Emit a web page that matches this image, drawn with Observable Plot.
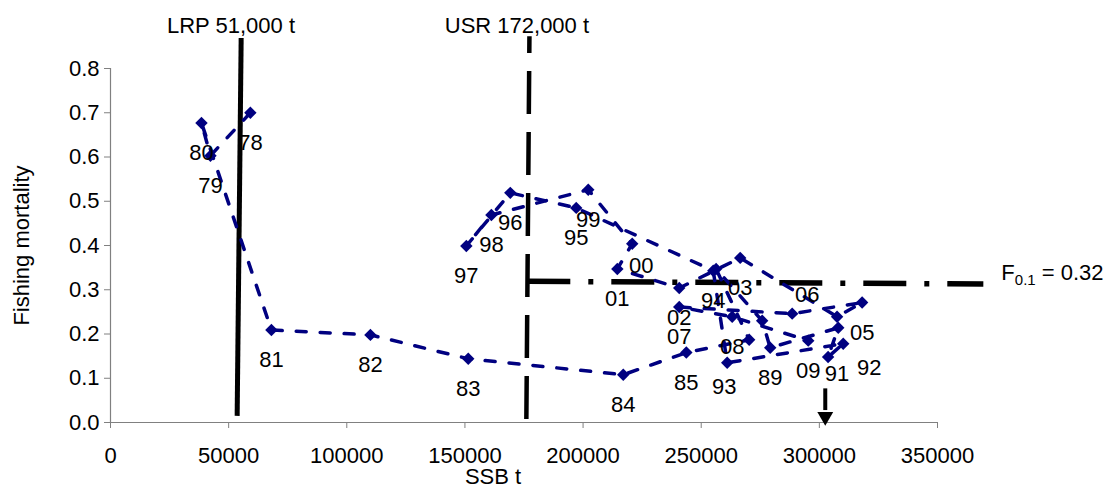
<!DOCTYPE html>
<html>
<head>
<meta charset="utf-8">
<script src="https://cdn.jsdelivr.net/npm/d3@7"></script>
<script src="https://cdn.jsdelivr.net/npm/@observablehq/plot@0.6"></script>
<style>
  html, body { margin: 0; padding: 0; background: #fff; }
  #chart svg { display: block; }
</style>
</head>
<body>
<div id="chart"></div>
<script>
// ---- data ----
const years  = ["78","79","80","81","82","83","84","85","86","87","88","89","90","91","92","93","94","95","96","97","98","99","00","01","02","03","04","05","06","07","08","09"];
const ssb    = [59200,42300,38500,68100,110000,151400,217000,243700,270300,256300,275800,279200,308000,303700,310100,261000,255100,197100,169200,150600,161200,202200,220800,214500,240700,266500,307500,318100,288500,240700,263100,295300];
const fMort  = [0.700,0.603,0.677,0.209,0.198,0.144,0.108,0.158,0.187,0.347,0.230,0.169,0.214,0.148,0.178,0.135,0.343,0.485,0.519,0.399,0.469,0.526,0.404,0.347,0.304,0.372,0.239,0.271,0.246,0.261,0.239,0.185];
const unlabeled = ["86","87","88","90","04"];

const xTicks = [0,50000,100000,150000,200000,250000,300000,350000];
const yTicks = [0,0.1,0.2,0.3,0.4,0.5,0.6,0.7,0.8];

const lrpValue = 51000;   // label value
const usrValue = 172000;  // label value
const f01Value = 0.32;
// reference lines as drawn in the picture
const lrpLine = {xBottom: 53600, xTop: 55300, yBottom: 0.015, yTop: 0.869};
const usrLine = {xBottom: 176000, xTop: 177300, yBottom: 0.008, yTop: 0.873};
const f01Line = {xLeft: 176400, xRight: 369400, yLeft: 0.319, yRight: 0.313};
const arrowSSB = 302500;
const arrowShaft = [0.076, 0.027];
const arrowHeadY = 0.0133;

const data = years.map((yr, i) => ({year: yr, ssb: ssb[i], f: fMort[i], label: unlabeled.includes(yr) ? "" : yr}));

// label nudges (pixels) for labels that are not directly below their point
const nudge = {"00": [9, 22], "06": [15, -19], "93": [-3, 24], "91": [9, 17], "92": [26, 24]};

const font = "'Liberation Sans', Arial, sans-serif";
const navy = "#000080";
const fs = 22;

const labelMarks = [
  Plot.text(data.filter(d => d.label && !(d.label in nudge)), {x: "ssb", y: "f", text: "label", dy: 30, fontSize: fs, fill: "black"}),
  ...Object.entries(nudge).map(([lab, [dx, dy]]) =>
    Plot.text(data.filter(d => d.label === lab), {x: "ssb", y: "f", text: "label", dx, dy, fontSize: fs, fill: "black"}))
];

const chart = Plot.plot({
  width: 1112,
  height: 487,
  marginLeft: 110,
  marginRight: 175,
  marginTop: 68,
  marginBottom: 65,
  style: {fontFamily: font, fontSize: fs + "px", background: "white", color: "black", overflow: "visible"},
  x: {domain: [0, 350000]},
  y: {domain: [0, 0.8]},
  marks: [
    // axis lines
    Plot.ruleY([0], {stroke: "#808080", strokeWidth: 1.2}),
    Plot.ruleX([0], {stroke: "#808080", strokeWidth: 1.2}),
    Plot.axisX({ticks: xTicks, tickFormat: d => String(d), tickSize: 6, tickPadding: 19, stroke: "#808080", fill: "black", fontSize: fs, label: null}),
    Plot.axisY({ticks: yTicks, tickFormat: d => d.toFixed(1), tickSize: 6, tickPadding: 5, stroke: "#808080", fill: "black", fontSize: fs, label: null}),
    Plot.text(["SSB t"], {frameAnchor: "bottom", dx: -31, dy: 61, fontSize: fs, fill: "black"}),
    Plot.text(["Fishing mortality"], {frameAnchor: "left", textAnchor: "middle", rotate: -90, dx: -89, dy: 0, fontSize: fs, fill: "black"}),

    // LRP line
    Plot.link([lrpLine], {x1: "xBottom", y1: "yBottom", x2: "xTop", y2: "yTop", stroke: "black", strokeWidth: 5}),
    Plot.text([lrpValue], {x: d => d, frameAnchor: "top", dy: -51, text: d => "LRP " + d3.format(",")(d) + " t", fontSize: fs, fill: "black"}),
    // USR line
    Plot.link([usrLine], {x1: "xBottom", y1: "yBottom", x2: "xTop", y2: "yTop", stroke: "black", strokeWidth: 4.5, strokeDasharray: "43,18"}),
    Plot.text([usrValue], {x: d => d, frameAnchor: "top", dy: -51, text: d => "USR " + d3.format(",")(d) + " t", fontSize: fs, fill: "black"}),
    // F0.1 line
    Plot.link([f01Line], {x1: "xLeft", y1: "yLeft", x2: "xRight", y2: "yRight", stroke: "black", strokeWidth: 5.5, strokeDasharray: "43,18,5,18"}),
    Plot.text([f01Line], {x: "xRight", y: f01Value, dx: 18, dy: -8, textAnchor: "start", text: () => "F0.1 = " + f01Value.toFixed(2), fontSize: fs, fill: "black"}),

    // arrow
    Plot.ruleX([arrowSSB], {y1: arrowShaft[1], y2: arrowShaft[0], stroke: "black", strokeWidth: 4}),
    Plot.dot([arrowSSB], {x: d => d, y: arrowHeadY, symbol: "triangle", r: 5.9, rotate: 180, fill: "black", stroke: "none"}),

    // trajectory
    Plot.line(data, {x: "ssb", y: "f", stroke: navy, strokeWidth: 3.5, strokeDasharray: "10,14"}),
    Plot.dot(data, {x: "ssb", y: "f", symbol: "diamond2", r: 5.6, fill: navy, stroke: "none"}),
    ...labelMarks
  ]
});

document.getElementById("chart").appendChild(chart);

// subscript for F0.1 label
d3.select(chart).selectAll("text").filter(function() { return this.textContent === "F0.1 = 0.32"; })
  .each(function() {
    const t = d3.select(this);
    t.text(null);
    t.append("tspan").text("F");
    t.append("tspan").attr("font-size", 15).attr("dy", 5).text("0.1");
    t.append("tspan").attr("dy", -5).text(" = 0.32");
  });
</script>
</body>
</html>
